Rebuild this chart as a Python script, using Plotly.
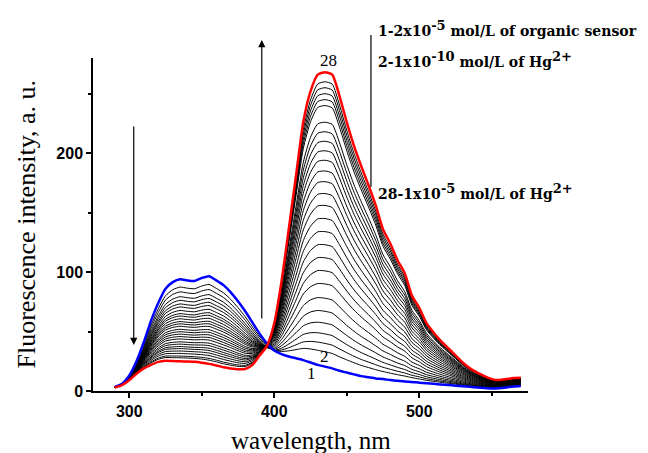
import numpy as np
import plotly.graph_objects as go

# wavelength grid (nm)
wavelength = [290, 295, 300, 305, 310, 315, 320, 325, 330, 335, 340, 345, 350, 355, 360,
              365, 370, 375, 380, 385, 390, 395, 400, 405, 410, 415, 420, 425, 430, 435,
              440, 445, 450, 455, 460, 465, 470, 475, 480, 485, 490, 495, 500, 505, 510,
              515, 520, 525, 530, 535, 540, 545, 550, 555, 560, 565, 570]

# curve 1: organic sensor alone (blue)
curve_1 = [3.5, 6, 13, 25, 41, 59, 74, 86, 91.5, 94, 93, 92.5, 95, 96.5, 93,
           89, 83, 75.5, 67, 57.5, 48, 40, 34, 31, 29, 27.5, 26, 24, 22, 20.5,
           19, 17, 15.5, 14, 12.5, 11.5, 10.5, 10, 9.2, 8.6, 8, 7.6, 7, 6.5, 6,
           5.5, 5, 4.5, 4, 3.5, 3, 2.5, 2.2, 2.4, 3, 3.8, 4.2]

# curve 28: 1x10^-5 mol/L Hg2+ (red)
curve_28 = [3, 5, 9, 14.5, 19, 22, 24.5, 25.5, 25.2, 25, 24.8, 24.5, 23.8, 22.8, 21.5,
            20, 19, 18.3, 18.5, 22, 30, 38, 57, 92, 136, 181, 226, 252, 266, 268,
            266, 248, 226, 206, 189, 173, 156, 136, 124, 110, 99, 80, 70, 57, 49,
            42, 36, 30, 24, 19, 15.5, 12.5, 10, 9.2, 10, 11, 11.2]

# intermediate curves 2..27: intensity read at the UV band (345 nm) and visible band (435 nm)
uv_band_345 = [86, 82, 78, 75, 72, 69.5, 66.6, 64, 62, 59.7, 57.4, 55.5, 53.5,
               51, 49, 47, 45, 43, 40.6, 38.7, 36.7, 35, 33, 31, 28.8, 27.4]
vis_band_435 = [33, 40, 48, 57, 67, 78, 90, 101, 112, 123, 134, 145, 156,
                166, 176, 185, 194, 202, 210, 218, 226, 240, 245, 250, 255, 260]

wl = np.array(wavelength, dtype=float)
c1 = np.array(curve_1, dtype=float)
c28 = np.array(curve_28, dtype=float)
i345 = wavelength.index(345)
i435 = wavelength.index(435)
M = np.array([[c1[i345], c28[i345]], [c1[i435], c28[i435]]])

fig = go.Figure()
for uv, vis in zip(uv_band_345, vis_band_435):
    a, b = np.linalg.solve(M, np.array([uv, vis]))
    y = a * c1 + b * c28
    fig.add_trace(go.Scatter(x=wl, y=y, mode="lines",
                             line=dict(color="black", width=1, shape="spline", smoothing=0.6),
                             showlegend=False, hoverinfo="skip"))

fig.add_trace(go.Scatter(x=wl, y=c1, mode="lines",
                         line=dict(color="#0000ff", width=2.5, shape="spline", smoothing=0.6),
                         showlegend=False))
fig.add_trace(go.Scatter(x=wl, y=c28, mode="lines",
                         line=dict(color="#ff0000", width=2.5, shape="spline", smoothing=0.6),
                         showlegend=False))

tickfont = dict(family="Liberation Sans", size=16, color="black", weight="bold")

fig.update_xaxes(range=[275, 575], showline=True, linecolor="black", linewidth=1.5,
                 ticks="outside", ticklen=5, tickwidth=1.5, tickcolor="black",
                 tickvals=[300, 400, 500], tickfont=tickfont, showgrid=False, zeroline=False,
                 minor=dict(tickvals=[350, 450, 550], ticks="outside", ticklen=3,
                            tickwidth=1.5, tickcolor="black"))
fig.update_yaxes(range=[0, 280], showline=True, linecolor="black", linewidth=1.5,
                 ticks="outside", ticklen=5, tickwidth=1.5, tickcolor="black",
                 tickvals=[0, 100, 200], tickfont=tickfont, showgrid=False, zeroline=False,
                 minor=dict(tickvals=[50, 150, 250], ticks="outside", ticklen=3,
                            tickwidth=1.5, tickcolor="black"))

serif = "Liberation Serif"
legend_font = dict(family="DejaVu Serif", size=14, color="black", weight="bold")
sup = '<sup><span style="font-size:13px">{}</span></sup>'
annotations = [
    dict(text="wavelength, nm", xref="paper", yref="paper", x=0.5, y=0, yanchor="middle",
         yshift=-49, showarrow=False, font=dict(family=serif, size=25, color="black")),
    dict(text="Fluorescence intensity, a. u.", xref="paper", yref="paper", x=0, y=0.5,
         xanchor="center", yanchor="middle", xshift=-67, textangle=-90, showarrow=False,
         font=dict(family=serif, size=26, color="black")),
    dict(text="28", x=437.6, y=278, xref="x", yref="y", showarrow=False,
         font=dict(family=serif, size=17, color="black")),
    dict(text="2", x=434.8, y=28.6, xref="x", yref="y", showarrow=False,
         font=dict(family=serif, size=17, color="black")),
    dict(text="1", x=425.7, y=14.3, xref="x", yref="y", showarrow=False,
         font=dict(family=serif, size=17, color="black")),
    dict(text="1-2x10" + sup.format("-5") + " mol/L of organic sensor", xref="paper", yref="paper",
         x=0.6506, y=1.0886, xanchor="left", yanchor="middle", showarrow=False, font=legend_font),
    dict(text="2-1x10" + sup.format("-10") + " mol/L of Hg" + sup.format("2+"), xref="paper", yref="paper",
         x=0.6506, y=0.994, xanchor="left", yanchor="middle", showarrow=False, font=legend_font),
    dict(text="28-1x10" + sup.format("-5") + " mol/L of Hg" + sup.format("2+"), xref="paper", yref="paper",
         x=0.6506, y=0.5976, xanchor="left", yanchor="middle", showarrow=False, font=legend_font),
    # down arrow (UV band decreasing)
    dict(x=303.1, y=38.7, xref="x", yref="y", ax=0, ay=-220, text="", showarrow=True,
         arrowhead=2, arrowsize=1.2, arrowwidth=1.2, arrowcolor="black"),
    # up arrow (visible band increasing)
    dict(x=391.4, y=1.054, xref="x", yref="paper", ax=0, ay=280, text="", showarrow=True,
         arrowhead=2, arrowsize=1.2, arrowwidth=1.2, arrowcolor="black"),
]

shapes = [dict(type="line", xref="paper", yref="paper", x0=0.639, x1=0.639, y0=1.069, y1=0.6126,
               line=dict(color="black", width=1.2))]

fig.update_layout(width=648, height=453,
                  margin=dict(l=93, r=120, t=58, b=62, autoexpand=False),
                  plot_bgcolor="white", paper_bgcolor="white",
                  annotations=annotations, shapes=shapes, showlegend=False)

fig.write_html("out.html", config={"displayModeBar": False},
               post_script="document.body.style.margin='0';")
